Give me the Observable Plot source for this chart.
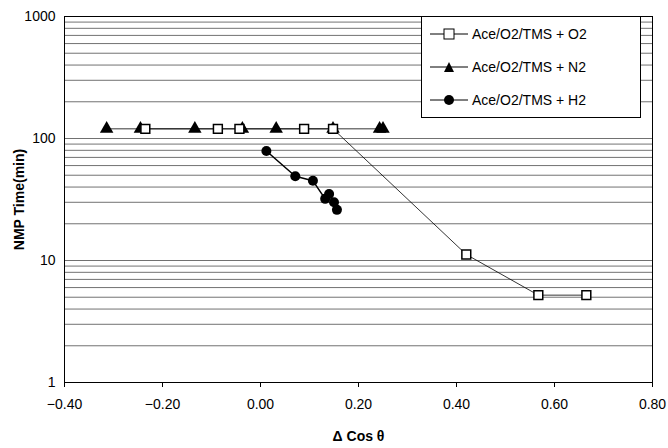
<!DOCTYPE html>
<html><head><meta charset="utf-8">
<script src="https://cdn.jsdelivr.net/npm/d3@7"></script>
<script src="https://cdn.jsdelivr.net/npm/@observablehq/plot@0.6"></script>
<style>
body{margin:0;background:#fff;font-family:"Liberation Sans",Arial,sans-serif}
#wrap{position:relative;width:668px;height:448px}
#legend{position:absolute;left:421px;top:16px;width:218px;height:100px;background:#fff;border:1px solid #000;font-size:14px}
#legend div{display:flex;align-items:center;height:33px;padding-left:8px}
#legend svg{margin-right:4px}
</style></head><body>
<div id="wrap"><div id="chart"></div>
<div id="legend">
<div><svg width="38" height="12"><line x1="0" y1="6" x2="38" y2="6" stroke="#000"/><rect x="14" y="1" width="10" height="10" fill="#fff" stroke="#000"/></svg>Ace/O2/TMS + O2</div>
<div><svg width="38" height="12"><line x1="0" y1="6" x2="38" y2="6" stroke="#000"/><path d="M19,1 L24,11 L14,11Z" fill="#000"/></svg>Ace/O2/TMS + N2</div>
<div><svg width="38" height="12"><line x1="0" y1="6" x2="38" y2="6" stroke="#000"/><circle cx="19" cy="6" r="5" fill="#000"/></svg>Ace/O2/TMS + H2</div>
</div></div>
<script>
const o2x = [-0.235, -0.087, -0.043, 0.089, 0.148, 0.42, 0.567, 0.665];
const o2y = [120, 120, 120, 120, 120, 11.2, 5.2, 5.2];
const n2x = [-0.314, -0.245, -0.134, -0.037, 0.032, 0.148, 0.243, 0.25];
const n2y = [120, 120, 120, 120, 120, 120, 120, 120];
const h2x = [0.012, 0.071, 0.107, 0.132, 0.14, 0.15, 0.156];
const h2y = [79, 49, 45, 32, 35, 30, 26];
const yTicks = [1, 10, 100, 1000];
const xTicks = [-0.4, -0.2, 0, 0.2, 0.4, 0.6, 0.8];

const toRows = (xs, ys) => xs.map((x, i) => ({x, y: ys[i]}));
const o2 = toRows(o2x, o2y), n2 = toRows(n2x, n2y), h2 = toRows(h2x, h2y);
const minor = d3.range(0, 3).flatMap(e => d3.range(1, 10).map(k => k * 10 ** e)).concat([1000]);

const chart = Plot.plot({
  width: 668, height: 448,
  marginLeft: 64, marginRight: 16, marginTop: 16, marginBottom: 66,
  style: {fontFamily: "Liberation Sans, Arial, sans-serif", fontSize: "14px", color: "#000"},
  x: {domain: [-0.4, 0.8], ticks: xTicks, tickFormat: d3.format(".2f"), label: "Δ Cos θ", labelArrow: "none", labelAnchor: "center", labelOffset: 58, tickSize: 5, tickPadding: 12},
  y: {type: "log", domain: [1, 1000], ticks: yTicks, tickFormat: d => String(d), label: "NMP Time(min)", labelArrow: "none", labelAnchor: "center", labelOffset: 50, tickSize: 0},
  marks: [
    Plot.ruleY(minor, {stroke: "#000", strokeWidth: 0.7, strokeOpacity: 0.8}),
    Plot.frame({stroke: "#000"}),
    Plot.line(o2, {x: "x", y: "y", stroke: "#000", strokeWidth: 0.8}),
    Plot.line(n2, {x: "x", y: "y", stroke: "#000", strokeWidth: 0.8}),
    Plot.line(h2, {x: "x", y: "y", stroke: "#000", strokeWidth: 1.5}),
    Plot.dot(n2, {x: "x", y: "y", symbol: "triangle", fill: "#000", r: 5}),
    Plot.dot(o2, {x: "x", y: "y", symbol: "square", fill: "#fff", stroke: "#000", r: 5}),
    Plot.dot(h2, {x: "x", y: "y", fill: "#000", r: 5})
  ]
});
d3.select(chart).selectAll("[aria-label='x-axis label'] text, [aria-label='y-axis label'] text").style("font-weight", "bold");
d3.select('#chart').append(() => chart);
</script></body></html>
